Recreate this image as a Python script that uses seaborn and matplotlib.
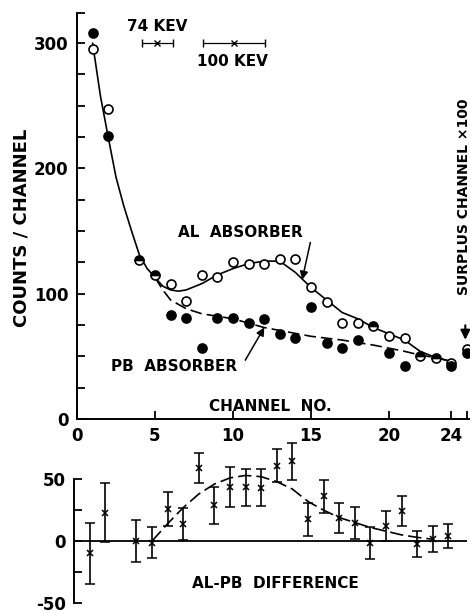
import numpy as np
import pandas as pd
import matplotlib
matplotlib.use('Agg')
import matplotlib.pyplot as plt
import seaborn as sns

sns.set_style('ticks')
plt.rcParams['font.family'] = ['DejaVu Sans']
plt.rcParams['font.weight'] = 'bold'
plt.rcParams['font.size'] = 12
plt.rcParams['text.color'] = 'black'
plt.rcParams['axes.edgecolor'] = 'black'
plt.rcParams['xtick.color'] = 'black'
plt.rcParams['ytick.color'] = 'black'

# counts per channel (channel 25 = surplus channel x100)
channels = [1, 2, 4, 5, 6, 7, 8, 9, 10, 11, 12, 13, 14, 15, 16, 17, 18, 19, 20, 21, 22, 23, 24, 25]
al_counts = [295, 247, 127, 115, 108, 94, 115, 113, 125, 124, 124, 128, 128, 105, 93, 77, 77, 74, 66, 65, 50, 49, 45, 56]
pb_counts = [308, 226, 127, 115, 83, 81, 57, 81, 81, 77, 80, 68, 65, 89, 61, 57, 63, 74, 53, 42, 50, 49, 42, 53]

# hand drawn curves through the points
common_ch = [1, 1.5, 2, 2.5, 3, 3.5, 4, 4.5, 5]
common_val = [300, 258, 225, 193, 170, 150, 131, 120, 113]
al_curve_ch = [5, 5.5, 6, 6.5, 7, 8, 9, 10, 11, 12, 13, 14, 14.5, 15, 16, 17, 18, 19, 20, 21, 22, 23, 24]
al_curve_val = [113, 106, 103, 102, 103, 108, 115, 120, 124, 126, 126, 117, 111, 105, 95, 85, 80, 73, 68, 63, 54, 49, 46]
pb_curve_ch = [5, 5.5, 6, 7, 8, 9, 10, 12, 15, 17, 19, 21, 22, 23, 24]
pb_curve_val = [113, 103, 95, 88, 84, 82, 80, 73, 66, 63, 59, 54, 51, 49, 46]

# energy resolution markers
res_center = [5.15, 10.05]
res_half = [1.0, 2.0]
res_level = [300, 300]

# AL - PB difference
diff_ch = [1, 2, 4, 5, 6, 7, 8, 9, 10, 11, 12, 13, 14, 15, 16, 17, 18, 19, 20, 21, 22, 23, 24]
diff_val = [-10, 23, 0, -1.5, 26, 13.5, 59, 29, 43.5, 43.5, 43, 61, 64.5, 17.5, 36, 18.5, 14.5, -1.5, 12, 24, -2.5, 1.5, 4]
diff_err = [25, 24, 17, 12.5, 14, 13, 12, 15, 16, 15, 15, 13.5, 15, 13.5, 13.5, 12, 13, 13, 12, 12, 10.5, 10.5, 9.5]
diff_curve_ch = [5, 6, 7, 8, 9, 10, 11, 12, 13, 14, 15, 16, 17, 18, 19, 20, 21, 22, 23]
diff_curve_val = [0, 14, 27, 38, 46, 51, 53, 52, 48, 42, 32, 25, 19, 15, 11, 8, 5, 3, 1.5]

df = pd.DataFrame({'ch': channels, 'al': al_counts, 'pb': pb_counts})
same = df['al'] == df['pb']

fig = plt.figure(figsize=(4.7, 6.13), dpi=100)
ax = fig.add_axes([77 / 470, 194 / 613, 393 / 470, 406 / 613])
ax2 = fig.add_axes([74 / 470, 10 / 613, 393 / 470, 161 / 613])

lw = 1.2
# curves
sns.lineplot(x=common_ch, y=common_val, ax=ax, color='k', lw=lw, sort=False, estimator=None)
sns.lineplot(x=al_curve_ch, y=al_curve_val, ax=ax, color='k', lw=lw, sort=False, estimator=None)
sns.lineplot(x=pb_curve_ch, y=pb_curve_val, ax=ax, color='k', lw=lw, sort=False, estimator=None,
             linestyle=(0, (7, 3)))

# points
sns.scatterplot(data=df[~same], x='ch', y='al', ax=ax, marker='o', s=42, facecolor='white',
                edgecolor='k', linewidth=1.2, zorder=3, clip_on=False)
sns.scatterplot(data=df[~same], x='ch', y='pb', ax=ax, marker='o', s=42, color='k',
                edgecolor='k', linewidth=1.2, zorder=4, clip_on=False)
ax.plot(df.loc[same, 'ch'], df.loc[same, 'al'], 'o', ms=6.5, fillstyle='top', mfc='k', mec='k',
        markerfacecoloralt='white', mew=1.2, zorder=5, ls='none')

# energy resolution
ax.errorbar(res_center, res_level, xerr=res_half, fmt='x', color='k', ms=4, mew=1,
            elinewidth=0.9, capsize=3, capthick=1)
ax.text(res_center[0], 313, '74 KEV', ha='center', va='center', fontsize=11)
ax.text(res_center[1] - 0.1, 285, '100 KEV', ha='center', va='center', fontsize=11)

ax.text(10.5, 149, 'AL  ABSORBER', ha='center', va='center', fontsize=11)
ax.annotate('', xy=(14.4, 109), xytext=(15.0, 143),
            arrowprops=dict(arrowstyle='-|>', color='k', lw=1.1, mutation_scale=12))
ax.text(6.25, 42, 'PB  ABSORBER', ha='center', va='center', fontsize=11)
ax.annotate('', xy=(12.1, 75), xytext=(10.7, 45),
            arrowprops=dict(arrowstyle='-|>', color='k', lw=1.1, mutation_scale=12))
ax.text(12.4, 10, 'CHANNEL  NO.', ha='center', va='center', fontsize=11)
ax.text(24.8, 177, 'SURPLUS CHANNEL ×100', ha='center', va='center', rotation=90, fontsize=10)
ax.annotate('', xy=(24.9, 61), xytext=(24.9, 77),
            arrowprops=dict(arrowstyle='-|>', color='k', lw=1.5, mutation_scale=14))

ax.set_xlim(0, 25.2)
ax.set_ylim(0, 324)
ax.set_xticks([0, 5, 10, 15, 20, 24])
ax.set_xticklabels(['0', '5', '10', '15', '20', '24'])
ax.set_xticks([25], minor=True)
ax.set_yticks([0, 100, 200, 300])
ax.set_yticks([25, 50, 75, 125, 150, 175, 225, 250, 275, 324], minor=True)
ax.tick_params(which='both', direction='in', length=6, width=1.3, labelsize=12, pad=6)
ax.set_xlabel('')
ax.set_ylabel('')
for s in ['top', 'right']:
    ax.spines[s].set_visible(False)
for s in ['left', 'bottom']:
    ax.spines[s].set_linewidth(1.4)
fig.text(22 / 470, 1 - 228 / 613, 'COUNTS / CHANNEL', rotation=90, ha='center', va='center', fontsize=13)

# difference panel
ax2.axhline(0, color='k', lw=1.3)
sns.lineplot(x=diff_curve_ch, y=diff_curve_val, ax=ax2, color='k', lw=lw, sort=False, estimator=None,
             linestyle=(0, (8, 3)))
ax2.errorbar(diff_ch, diff_val, yerr=diff_err, fmt='x', color='k', ms=4.5, mew=1.1,
             elinewidth=1.2, capsize=3.5, capthick=1.2, clip_on=False)
ax2.text(12.9, -34, 'AL-PB  DIFFERENCE', ha='center', va='center', fontsize=11)
ax2.set_xlim(0, 25.2)
ax2.set_ylim(-50, 80)
ax2.set_yticks([-50, 0, 50])
ax2.set_yticklabels(['-50', '0', '50'])
ax2.set_yticks([-25, 25], minor=True)
ax2.set_xticks([])
ax2.tick_params(which='both', direction='in', length=6, width=1.3, labelsize=12, pad=6)
for s in ['top', 'right', 'bottom']:
    ax2.spines[s].set_visible(False)
ax2.spines['left'].set_bounds(-50, 50)
ax2.spines['left'].set_linewidth(1.4)

fig.savefig('out.png', dpi=100)
